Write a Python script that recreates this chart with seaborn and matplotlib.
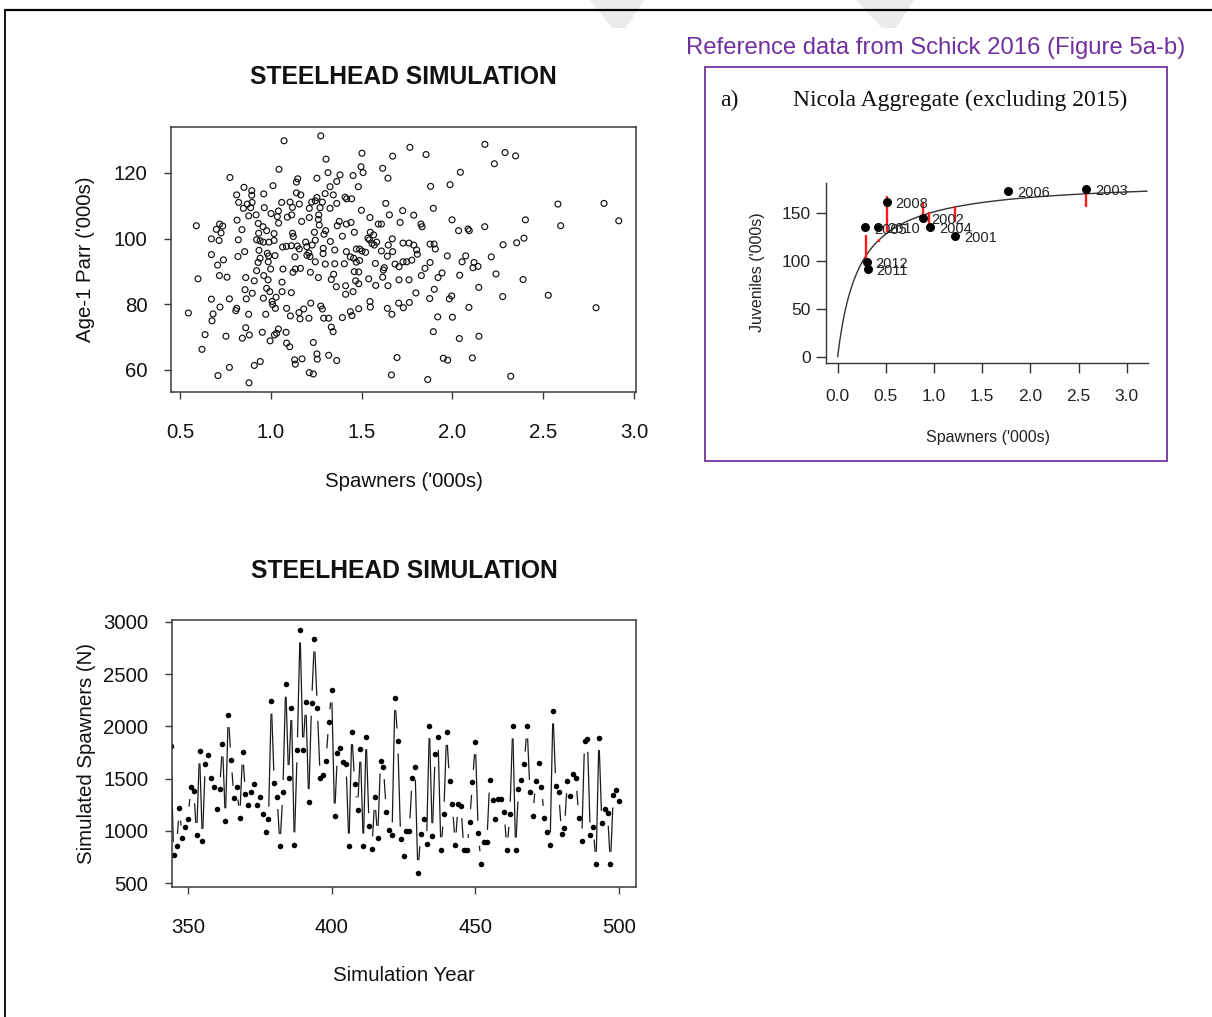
import numpy as np
import pandas as pd
import matplotlib
matplotlib.use("Agg")
import matplotlib.pyplot as plt
import seaborn as sns
from matplotlib.collections import LineCollection
from matplotlib.lines import Line2D
from matplotlib.patches import Rectangle, Polygon

# ---------------- data: top-left scatter (Spawners vs Age-1 parr, '000s) ----------------
scatter_spawners_a = [
    1.275, 1.073, 1.502, 1.671, 1.304, 1.497, 1.045, 1.616, 1.315, 1.508,
    1.381, 1.453, 1.254, 1.645, 0.775, 1.148, 1.141, 1.363, 1.326, 1.482,
    0.852, 1.012, 0.895, 0.895, 0.812, 0.961, 1.141, 1.165, 1.299, 1.344,
    1.254, 1.409, 1.445, 1.418, 0.897, 0.871, 0.823, 1.060, 1.106, 1.157,
    1.225, 1.245, 1.284, 1.363, 1.633, 0.849, 0.889, 0.964, 1.042, 1.119,
    1.212, 1.271, 1.326, 1.499, 1.726, 0.878, 0.919, 1.001, 1.036, 1.091,
    1.115, 1.264, 1.212, 1.546, 1.653, 0.590, 0.718, 0.735, 0.700, 0.726,
    0.841, 0.814, 0.931, 0.957, 0.977, 1.043, 1.170, 1.262, 1.267, 1.302,
    1.377, 1.416, 1.442, 1.366, 1.592, 1.609, 1.712, 0.673, 0.715, 0.821,
    0.933, 0.922, 0.941, 1.018, 1.018, 0.959, 0.990, 1.120, 1.124, 1.240,
    1.293, 1.328, 1.394, 1.460, 1.548, 1.566, 1.535, 1.583, 1.557, 1.543,
    1.669, 1.728, 1.065, 1.086, 1.113, 1.146, 1.157, 1.192, 1.198, 1.227,
    1.245, 1.289, 1.352, 1.416, 1.471, 1.489, 1.502, 1.522, 1.570, 1.609,
    1.647, 1.671, 1.728, 1.748, 0.673, 0.819, 0.856, 0.935, 0.941, 0.981,
    0.988, 0.986, 1.023, 0.739, 0.707, 0.930, 1.133, 1.199, 1.209, 1.216,
    1.245, 1.218, 1.300, 1.288, 1.352, 1.405, 1.438, 1.456, 1.489, 1.471,
    1.576, 1.625, 1.620, 1.642, 1.684, 1.706, 0.599, 0.717, 0.759, 0.862,
    0.922, 0.961, 0.985, 0.909, 0.999, 1.067, 1.122, 1.135, 1.163, 1.062,
    1.262, 1.346, 1.333, 1.361, 1.412, 1.460, 1.484, 1.467, 1.484, 1.453,
    1.412, 1.539, 1.578, 1.616, 1.645, 1.706, 0.858, 0.898, 0.959, 0.977,
    0.994, 1.029, 1.007, 1.062, 1.113, 0.673, 0.772, 0.865, 1.010, 1.025,
    0.812, 0.807, 0.878, 0.720, 0.682, 0.676, 0.546, 0.972, 1.087, 1.108,
    1.155, 1.181, 1.161, 1.210, 1.220, 1.275, 1.284, 1.291, 1.319, 1.333,
    1.343, 1.394, 1.438, 1.447, 1.484, 1.546, 1.548, 1.642, 1.667, 1.704,
    1.730, 0.638, 0.753, 0.843, 0.862, 0.882, 0.953, 0.996, 1.020, 1.032,
    1.042, 1.084, 1.087, 1.104, 1.234, 0.621, 0.772, 0.709, 0.880, 0.909,
    0.942, 1.131, 1.135, 1.172, 1.254, 1.256, 1.319, 1.363, 1.212, 1.234, 1.664, 1.695,
]
scatter_parr_a = [
    131.3, 129.8, 126.0, 125.1, 124.2, 121.9, 121.1, 121.4, 120.1, 120.1,
    119.4, 119.2, 118.4, 118.4, 118.6, 118.2, 117.2, 117.4, 115.8, 115.8,
    115.6, 116.1, 114.6, 113.2, 113.3, 113.6, 113.9, 113.3, 113.7, 113.3,
    112.5, 112.6, 112.1, 112.1, 111.0, 110.5, 111.0, 111.0, 111.1, 110.5,
    111.1, 111.5, 111.1, 110.7, 110.7, 109.2, 109.4, 109.4, 108.4, 109.5,
    109.2, 109.4, 109.2, 108.6, 108.5, 106.9, 107.2, 107.6, 106.7, 106.5,
    107.2, 107.2, 106.4, 106.4, 107.2, 103.9, 104.4, 103.8, 102.8, 101.7,
    102.7, 105.6, 104.6, 103.6, 102.4, 104.7, 105.2, 105.8, 104.1, 102.4,
    105.2, 104.4, 104.9, 103.9, 104.4, 104.4, 104.9, 99.9, 99.4, 99.6,
    101.6, 99.6, 99.3, 101.5, 99.4, 98.9, 98.9, 101.6, 100.6, 101.9,
    101.3, 99.1, 100.7, 101.9, 101.9, 101.1, 100.1, 98.9, 98.5, 99.6,
    99.9, 98.6, 97.4, 97.6, 97.8, 97.7, 96.8, 98.9, 97.5, 98.0,
    99.5, 97.0, 96.5, 96.0, 96.8, 96.8, 96.2, 95.8, 98.0, 96.2,
    98.0, 96.0, 92.9, 92.9, 95.1, 94.5, 96.0, 96.4, 94.0, 95.5,
    94.7, 92.9, 94.8, 93.5, 91.9, 92.7, 94.4, 94.9, 95.6, 94.5,
    92.9, 89.7, 92.2, 95.4, 92.3, 92.3, 94.4, 94.0, 93.3, 92.8,
    92.4, 91.1, 90.4, 94.6, 92.2, 91.4, 87.7, 88.7, 88.2, 88.1,
    90.2, 88.7, 87.4, 87.1, 90.7, 90.7, 89.7, 90.7, 90.9, 86.7,
    88.1, 89.1, 87.5, 85.3, 85.6, 89.9, 89.8, 87.1, 86.2, 83.8,
    83.0, 87.7, 85.7, 88.2, 85.6, 87.4, 84.4, 83.3, 81.8, 84.8,
    83.8, 82.1, 80.8, 83.8, 83.5, 81.5, 81.6, 81.6, 79.9, 78.7,
    78.7, 78.0, 76.9, 79.1, 77.0, 74.9, 77.3, 76.9, 78.7, 76.4,
    77.4, 78.5, 75.5, 75.7, 80.3, 79.4, 78.5, 75.7, 75.7, 73.0,
    71.6, 75.9, 77.7, 76.5, 78.6, 80.8, 79.1, 78.7, 76.9, 80.3,
    78.9, 70.7, 70.2, 69.6, 72.8, 70.6, 71.4, 68.8, 70.6, 71.1,
    72.4, 71.4, 68.1, 67.0, 68.3, 66.2, 60.7, 58.2, 56.0, 61.3,
    62.5, 63.0, 61.7, 63.3, 64.8, 63.2, 64.4, 62.8, 59.1, 58.7, 58.4, 63.7,
]
scatter_spawners_b = [
    2.179, 2.290, 2.348, 1.855, 1.766, 2.231, 2.044, 1.880, 1.987, 2.581,
    2.835, 2.916, 2.596, 1.895, 1.787, 1.827, 1.833, 1.998, 2.034, 2.086,
    2.093, 2.178, 2.402, 2.394, 2.354, 2.279, 1.761, 1.787, 1.803, 1.807,
    1.877, 1.899, 1.906, 1.972, 2.073, 2.053, 2.119, 2.113, 2.141, 2.214,
    1.776, 1.877, 1.849, 1.829, 1.943, 1.921, 2.040, 2.240, 2.389, 1.761,
    1.799, 1.900, 1.875, 1.996, 1.983, 2.145, 2.091, 2.277, 2.528, 1.763,
    1.919, 2.000, 2.791, 1.895, 2.038, 2.146, 1.950, 1.974, 2.110, 1.864, 2.321,
]
scatter_parr_b = [
    128.7, 126.2, 125.2, 125.6, 127.8, 122.8, 120.2, 115.9, 116.4, 110.5,
    110.7, 105.4, 103.9, 109.2, 107.1, 104.4, 103.6, 105.7, 102.4, 102.9,
    102.4, 103.6, 105.7, 100.1, 98.7, 98.1, 98.6, 98.0, 96.5, 95.2,
    98.3, 98.3, 96.8, 94.7, 94.7, 92.9, 92.7, 91.1, 91.5, 94.4,
    93.4, 92.7, 90.9, 88.7, 89.5, 88.1, 88.8, 89.2, 87.5, 87.4,
    83.4, 84.5, 81.7, 82.5, 81.6, 85.1, 79.0, 82.3, 82.7, 80.5,
    76.1, 76.0, 78.9, 71.6, 69.5, 70.2, 63.5, 62.9, 63.6, 57.0, 58.0,
]

# ---------------- data: bottom-left time series ----------------
sim_years = list(range(344, 501))
sim_spawners = [
    1813, 770, 850, 1217, 930, 1038, 1111, 1424, 1383, 955,
    1765, 898, 1641, 1727, 1504, 1424, 1204, 1396, 1832, 1096,
    2113, 1679, 1312, 1418, 1121, 1753, 1350, 1248, 1370, 1453,
    1248, 1328, 1162, 993, 1111, 2241, 1456, 1328, 850, 1367,
    2403, 1510, 2180, 866, 1775, 2923, 1775, 2231, 1280, 2222,
    2837, 2174, 1504, 1536, 1670, 2045, 2349, 1142, 1742, 1790,
    1662, 1640, 854, 1949, 1448, 1199, 1781, 854, 1901, 1049,
    826, 1320, 928, 1669, 1614, 1183, 1008, 960, 2275, 1860,
    921, 759, 1000, 1000, 1502, 1608, 599, 973, 1116, 877,
    2007, 953, 1732, 1895, 819, 1158, 1943, 1480, 1253, 864,
    1253, 1241, 813, 813, 1087, 1464, 1853, 976, 685, 889,
    889, 1486, 1292, 1113, 1308, 1308, 1180, 816, 1158, 2004,
    816, 1400, 1486, 1640, 2004, 1368, 1145, 1477, 1646, 1423,
    1120, 985, 864, 2148, 1432, 1368, 973, 1024, 1480, 1333,
    1541, 1502, 1126, 902, 1860, 1876, 959, 1036, 679, 1892,
    1071, 1209, 1167, 679, 1343, 1391, 1285,
]

# ---------------- data: reference inset (Schick 2016, Nicola aggregate) ----------------
ref_labels = ["2001", "2002", "2003", "2004", "2005", "2006", "2008", "2010", "2011", "2012"]
ref_spawners = [1.218, 0.882, 2.574, 0.958, 0.284, 1.772, 0.509, 0.422, 0.311, 0.301]
ref_juveniles = [126.0, 144.1, 174.7, 135.4, 134.7, 172.9, 161.5, 135.4, 91.3, 99.0]
red_x = [0.290, 0.429, 0.516, 0.889, 0.952, 1.218, 2.574]
red_lo = [95.5, 119.8, 130.0, 147.0, 137.0, 140.0, 155.5]
red_hi = [126.7, 123.0, 167.0, 161.0, 151.0, 157.0, 170.0]
bh_alpha, bh_beta = 835.0, 4.53      # fitted Beverton-Holt curve shown in the reference
bh_smax = 3.21

# ---------------- styling ----------------
sns.set_theme(style="ticks")
plt.rcParams["font.family"] = ["Liberation Sans", "DejaVu Sans"]

W, H = 1212, 1017
fig = plt.figure(figsize=(W / 100, H / 100), dpi=100)
fig.patch.set_facecolor("white")


def rect(l, t, r, b):
    return [l / W, 1 - b / H, (r - l) / W, (b - t) / H]


TXT = "#111111"
SPINE = "#3a3a3a"
SERIF = ["Liberation Serif", "DejaVu Serif"]


def style_main(ax):
    for s in ax.spines.values():
        s.set_color(SPINE)
        s.set_linewidth(1.1)
    ax.tick_params(axis="both", direction="out", length=5, width=1.0, color=SPINE,
                   labelsize=14.7, labelcolor=TXT)
    ax.tick_params(axis="x", pad=17)
    ax.tick_params(axis="y", pad=12)


# ---------------- top-left scatter ----------------
ax1 = fig.add_axes(rect(171, 127, 636, 392))
scatter_df = pd.DataFrame({
    "spawners": scatter_spawners_a + scatter_spawners_b,
    "parr": scatter_parr_a + scatter_parr_b,
})
sns.scatterplot(data=scatter_df, x="spawners", y="parr", ax=ax1, marker="o", s=18,
                facecolor="none", edgecolor="#111111", linewidth=0.85, legend=False)
ax1.set_xlim(0.4504, 3.011)
ax1.set_ylim(53.2, 134.0)
xt = [0.5, 1.0, 1.5, 2.0, 2.5, 3.0]
ax1.set_xticks(xt)
ax1.set_xticklabels([f"{v:.1f}" for v in xt])
ax1.set_yticks([60, 80, 100, 120])
ax1.set_yticklabels(["60", "80", "100", "120"])
style_main(ax1)
ax1.set_xlabel("Spawners ('000s)", fontsize=14.7, color=TXT)
ax1.xaxis.set_label_coords(0.5, -0.336)
ax1.xaxis.label.set_va("center")
ax1.set_ylabel("Age-1 Parr ('000s)", fontsize=14.7, color=TXT)
ax1.yaxis.set_label_coords(-0.183, 0.5)
ax1.yaxis.label.set_va("center")
ax1.text(0.5, 1.189, "STEELHEAD SIMULATION", transform=ax1.transAxes, ha="center",
         va="center", fontsize=17.7, fontweight="bold", color=TXT)

# ---------------- bottom-left time series ----------------
ax2 = fig.add_axes(rect(172, 620, 636, 887))
ax2.set_xlim(344.43, 505.9)
ax2.set_ylim(461.7, 3019)
ts_df = pd.DataFrame({"year": sim_years, "spawners": sim_spawners})
# R type="b": segments between points, shortened so they stop short of each point
pts = ax2.transData.transform(ts_df[["year", "spawners"]].to_numpy(dtype=float))
gap = 12.5
inv = ax2.transData.inverted()
segs = []
for p0, p1 in zip(pts[:-1], pts[1:]):
    d = p1 - p0
    L = float(np.hypot(d[0], d[1]))
    if L > 2 * gap:
        u = d / L
        segs.append(inv.transform(np.array([p0 + u * gap, p1 - u * gap])))
ax2.add_collection(LineCollection(segs, colors="#1a1a1a", linewidths=0.9))
sns.scatterplot(data=ts_df, x="year", y="spawners", ax=ax2, color="black", s=16,
                linewidth=0, legend=False)
ax2.set_xlim(344.43, 505.9)
ax2.set_ylim(461.7, 3019)
ax2.set_xticks([350, 400, 450, 500])
ax2.set_xticklabels(["350", "400", "450", "500"])
yt2 = [500, 1000, 1500, 2000, 2500, 3000]
ax2.set_yticks(yt2)
ax2.set_yticklabels([str(v) for v in yt2])
style_main(ax2)
ax2.set_xlabel("Simulation Year", fontsize=14.7, color=TXT)
ax2.xaxis.set_label_coords(0.5, -0.330)
ax2.xaxis.label.set_va("center")
ax2.set_ylabel("Simulated Spawners (N)", fontsize=14.7, color=TXT)
ax2.yaxis.set_label_coords(-0.185, 0.5)
ax2.yaxis.label.set_va("center")
ax2.text(0.5, 1.184, "STEELHEAD SIMULATION", transform=ax2.transAxes, ha="center",
         va="center", fontsize=17.7, fontweight="bold", color=TXT)

# ---------------- reference inset ----------------
ax3 = fig.add_axes(rect(826, 183, 1148, 362.7))
S = np.linspace(0, bh_smax, 400)
curve_df = pd.DataFrame({"S": S, "R": bh_alpha * S / (1 + bh_beta * S)})
sns.lineplot(data=curve_df, x="S", y="R", ax=ax3, color="#333333", linewidth=1.0)
ax3.vlines(red_x, red_lo, red_hi, colors="#ff1a1a", linewidth=1.7, zorder=2)
ref_df = pd.DataFrame({"S": ref_spawners, "J": ref_juveniles, "lab": ref_labels})
sns.scatterplot(data=ref_df, x="S", y="J", ax=ax3, color="black", s=42, linewidth=0,
                zorder=4, legend=False)
for sx, jy, lab in zip(ref_spawners, ref_juveniles, ref_labels):
    ax3.annotate(lab, (sx, jy), xytext=(6.5, -1.5), textcoords="offset points",
                 ha="left", va="center", fontsize=10.5, color="#222222", zorder=5)
ax3.set_xlim(-0.121, 3.22)
ax3.set_ylim(-6.25, 181)
ax3.set_xticks([0, 0.5, 1.0, 1.5, 2.0, 2.5, 3.0])
ax3.set_xticklabels(["0.0", "0.5", "1.0", "1.5", "2.0", "2.5", "3.0"])
ax3.set_yticks([0, 50, 100, 150])
ax3.set_yticklabels(["0", "50", "100", "150"])
sns.despine(ax=ax3)
for s in ["left", "bottom"]:
    ax3.spines[s].set_color("#333333")
    ax3.spines[s].set_linewidth(1.0)
ax3.tick_params(axis="both", direction="out", length=7, width=1.0, color="#333333",
                labelsize=12.5, labelcolor="#222222")
ax3.tick_params(axis="x", pad=12)
ax3.tick_params(axis="y", pad=4)
ax3.set_xlabel("Spawners ('000s)", fontsize=11.5, color="#222222")
ax3.xaxis.set_label_coords(0.503, -0.419)
ax3.xaxis.label.set_va("center")
ax3.set_ylabel("Juveniles ('000s)", fontsize=11.5, color="#222222")
ax3.yaxis.set_label_coords(-0.214, 0.505)
ax3.yaxis.label.set_va("center")

fig.text(729 / W, 1 - 100 / H, "a)", ha="center", va="center", fontsize=17,
         family=SERIF, color=TXT)
fig.text(960 / W, 1 - 100 / H, "Nicola Aggregate (excluding 2015)", ha="center",
         va="center", fontsize=17, family=SERIF, color=TXT)

PURPLE = "#7030A0"
fig.add_artist(Rectangle((705 / W, 1 - 461 / H), (1167 - 705) / W, (461 - 67) / H,
                         transform=fig.transFigure, fill=False, edgecolor=PURPLE,
                         linewidth=1.3))
fig.text(936 / W, 1 - 48 / H, "Reference data from Schick 2016 (Figure 5a-b)",
         ha="center", va="center", fontsize=17.2, color=PURPLE)

# ---------------- page decoration (frame and faint watermark) ----------------
for poly in ([(590, 0), (644, 0), (626, 28), (612, 28)],
             [(856, 0), (914, 0), (896, 28), (882, 28)]):
    fig.add_artist(Polygon([(x / W, 1 - y / H) for x, y in poly], closed=True,
                           transform=fig.transFigure, facecolor="#ebebeb",
                           edgecolor="none", zorder=0))
fig.add_artist(Line2D([5 / W, 1.0], [1 - 10 / H, 1 - 10 / H], transform=fig.transFigure,
                      color="black", linewidth=1.6))
fig.add_artist(Line2D([5 / W, 5 / W], [1 - 10 / H, 0.0], transform=fig.transFigure,
                      color="black", linewidth=1.3))

fig.savefig("out.png", dpi=100, facecolor="white")
